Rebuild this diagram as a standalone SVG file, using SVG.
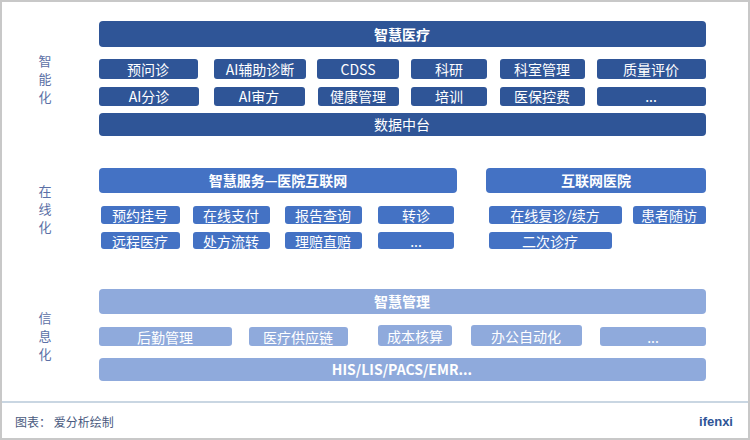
<svg xmlns="http://www.w3.org/2000/svg" width="750" height="440" viewBox="0 0 750 440">
<style>
text{font-family:"Noto Sans CJK SC","Noto Sans",sans-serif;fill:#fff;text-anchor:middle;dominant-baseline:central;font-size:14px}
.h{font-weight:bold}
.d rect{fill:#2f5597}
.m rect{fill:#4472c4}
.l rect{fill:#8faadc}
.side{fill:#5b70a6;font-size:13px}
</style>
<rect x="1" y="1" width="748" height="438" fill="#fff" stroke="#c8c8c8" stroke-width="2"/>
<line x1="2" y1="402" x2="748" y2="402" stroke="#c9d6e2" stroke-width="2"/>
<g id="side">
<text class="side" x="45" y="60">智</text><text class="side" x="45" y="78">能</text><text class="side" x="45" y="96">化</text>
<text class="side" x="45" y="190">在</text><text class="side" x="45" y="208">线</text><text class="side" x="45" y="226">化</text>
<text class="side" x="45" y="317">信</text><text class="side" x="45" y="335">息</text><text class="side" x="45" y="353">化</text>
</g>
<g class="d">
<g id="n1"><rect x="99" y="21" width="607" height="26" rx="4"/><text class="h" x="402" y="34">智慧医疗</text></g>
<g id="n2"><rect x="99" y="59" width="99" height="20" rx="3"/><text x="148" y="69">预问诊</text></g>
<g id="n3"><rect x="214" y="59" width="92" height="20" rx="3"/><text x="260" y="69">AI辅助诊断</text></g>
<g id="n4"><rect x="317" y="59" width="82" height="20" rx="3"/><text x="358" y="69">CDSS</text></g>
<g id="n5"><rect x="411" y="59" width="76" height="20" rx="3"/><text x="449" y="69">科研</text></g>
<g id="n6"><rect x="500" y="59" width="85" height="20" rx="3"/><text x="542" y="69">科室管理</text></g>
<g id="n7"><rect x="597" y="59" width="109" height="20" rx="3"/><text x="651" y="69">质量评价</text></g>
<g id="n8"><rect x="99" y="87" width="100" height="19" rx="3"/><text x="149" y="96">AI分诊</text></g>
<g id="n9"><rect x="214" y="87" width="91" height="19" rx="3"/><text x="259" y="96">AI审方</text></g>
<g id="n10"><rect x="318" y="87" width="81" height="19" rx="3"/><text x="358" y="96">健康管理</text></g>
<g id="n11"><rect x="411" y="87" width="76" height="19" rx="3"/><text x="449" y="96">培训</text></g>
<g id="n12"><rect x="500" y="87" width="85" height="19" rx="3"/><text x="542" y="96">医保控费</text></g>
<g id="n13"><rect x="597" y="87" width="109" height="19" rx="3"/><text x="651" y="96">...</text></g>
<g id="n14"><rect x="99" y="113" width="607" height="23" rx="4"/><text x="402" y="124">数据中台</text></g>
</g>
<g class="m">
<g id="n15"><rect x="99" y="168" width="358" height="25" rx="4"/><text class="h" x="278" y="180">智慧服务—医院互联网</text></g>
<g id="n16"><rect x="486" y="168" width="220" height="25" rx="4"/><text class="h" x="596" y="180">互联网医院</text></g>
<g id="n17"><rect x="101" y="206" width="79" height="18" rx="3"/><text x="140" y="215">预约挂号</text></g>
<g id="n18"><rect x="193" y="206" width="77" height="18" rx="3"/><text x="231" y="215">在线支付</text></g>
<g id="n19"><rect x="285" y="206" width="77" height="18" rx="3"/><text x="323" y="215">报告查询</text></g>
<g id="n20"><rect x="378" y="206" width="76" height="18" rx="3"/><text x="416" y="215">转诊</text></g>
<g id="n21"><rect x="489" y="206" width="133" height="18" rx="3"/><text x="555" y="215">在线复诊/续方</text></g>
<g id="n22"><rect x="633" y="206" width="73" height="18" rx="3"/><text x="669" y="215">患者随访</text></g>
<g id="n23"><rect x="101" y="232" width="79" height="17" rx="3"/><text x="140" y="241">远程医疗</text></g>
<g id="n24"><rect x="193" y="232" width="77" height="17" rx="3"/><text x="231" y="241">处方流转</text></g>
<g id="n25"><rect x="285" y="232" width="77" height="17" rx="3"/><text x="323" y="241">理赔直赔</text></g>
<g id="n26"><rect x="378" y="232" width="76" height="17" rx="3"/><text x="416" y="241">...</text></g>
<g id="n27"><rect x="489" y="232" width="123" height="17" rx="3"/><text x="550" y="241">二次诊疗</text></g>
</g>
<g class="l">
<g id="n28"><rect x="99" y="289" width="607" height="25" rx="4"/><text class="h" x="402" y="301">智慧管理</text></g>
<g id="n29"><rect x="99" y="327" width="133" height="19" rx="3"/><text x="165" y="337">后勤管理</text></g>
<g id="n30"><rect x="249" y="327" width="99" height="19" rx="3"/><text x="298" y="337">医疗供应链</text></g>
<g id="n31"><rect x="378" y="325" width="74" height="21" rx="3"/><text x="415" y="336">成本核算</text></g>
<g id="n32"><rect x="471" y="325" width="111" height="21" rx="3"/><text x="526" y="336">办公自动化</text></g>
<g id="n33"><rect x="600" y="327" width="106" height="19" rx="3"/><text x="653" y="337">...</text></g>
<g id="n34"><rect x="99" y="358" width="607" height="23" rx="4"/><text class="h" x="402" y="369">HIS/LIS/PACS/EMR...</text></g>
</g>
<g id="connectors"/>
<text x="15" y="421" style="fill:#4a5a80;text-anchor:start;font-size:12px">图表：  爱分析绘制</text>
<text x="733" y="421" style="fill:#2f5597;text-anchor:end;font-size:13px;font-weight:bold;font-family:'Liberation Sans',sans-serif">ifenxi</text>
</svg>
